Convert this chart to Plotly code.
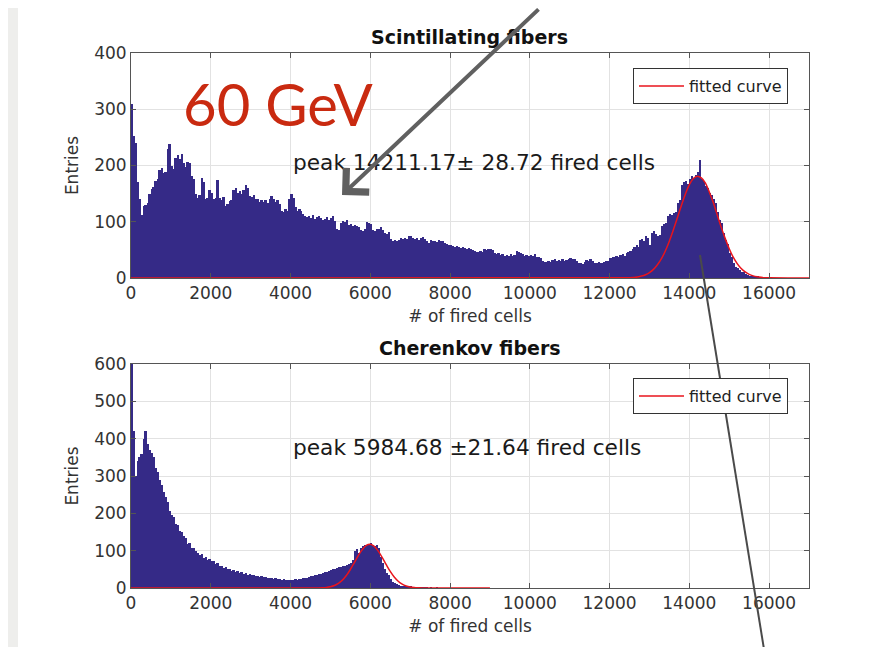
import numpy as np
import plotly.graph_objects as go

# the page puts the figure 8px in from the top-left corner
OFF = 8
W, H = 873 - 2 * OFF, 655 - 2 * OFF
BIN = 50

# Scintillating fibers histogram, counts per 50-cell bin starting at 0
scint_counts = [
    310, 252, 240, 170, 140, 112, 128, 130, 134, 150, 158, 162, 172, 176, 192, 196, 186, 188, 230, 238,
    200, 194, 214, 218, 212, 220, 204, 198, 207, 205, 181, 176, 150, 142, 147, 178, 170, 140, 143, 157,
    152, 140, 143, 175, 142, 138, 144, 128, 131, 137, 139, 156, 160, 152, 155, 150, 156, 166, 160, 146,
    144, 148, 140, 141, 136, 138, 135, 139, 134, 140, 145, 141, 136, 138, 132, 120, 118, 122, 119, 140,
    150, 142, 126, 120, 123, 119, 114, 111, 108, 110, 107, 112, 105, 108, 110, 106, 103, 105, 108, 104,
    106, 110, 102, 88, 86, 98, 101, 99, 103, 94, 96, 92, 95, 93, 90, 86, 84, 88, 100, 98,
    96, 86, 84, 88, 87, 90, 86, 80, 78, 81, 70, 66, 68, 65, 67, 71, 69, 72, 70, 74,
    75, 72, 69, 71, 68, 72, 73, 70, 66, 63, 67, 65, 66, 64, 68, 65, 66, 63, 60, 58,
    59, 57, 55, 57, 56, 54, 55, 53, 52, 54, 51, 50, 48, 46, 47, 48, 46, 52, 50, 51,
    51, 50, 44, 43, 45, 41, 42, 40, 41, 39, 42, 40, 41, 48, 47, 45, 42, 40, 41, 39,
    41, 40, 42, 38, 37, 36, 31, 29, 28, 30, 29, 32, 33, 31, 32, 30, 33, 31, 32, 34,
    35, 34, 33, 30, 26, 27, 25, 28, 32, 31, 33, 30, 27, 26, 28, 27, 26, 29, 30, 31,
    36, 38, 37, 39, 38, 41, 42, 40, 45, 47, 48, 52, 55, 58, 56, 68, 70, 66, 74, 72,
    58, 80, 84, 78, 74, 76, 92, 96, 98, 110, 114, 112, 116, 118, 134, 138, 166, 170, 172, 168,
    176, 182, 178, 184, 188, 210, 176, 172, 164, 160, 152, 148, 140, 134, 118, 104, 98, 80, 68, 60,
    44, 38, 26, 20, 17, 14, 11, 10, 7, 5, 4, 4, 3, 2, 2, 1, 1, 1, 0, 1,
]

# Cherenkov fibers histogram, counts per 50-cell bin starting at 0
cher_counts = [
    600, 420, 300, 340, 352, 360, 400, 420, 385, 370, 362, 350, 322, 310, 290, 275, 258, 245, 230, 205,
    195, 190, 172, 170, 152, 150, 138, 134, 118, 120, 108, 106, 98, 94, 88, 90, 80, 83, 76, 77,
    72, 71, 64, 66, 60, 59, 54, 55, 50, 51, 46, 48, 44, 45, 41, 42, 38, 40, 36, 37,
    34, 35, 32, 33, 30, 31, 29, 30, 27, 28, 26, 25, 26, 24, 23, 22, 23, 21, 21, 22,
    21, 22, 23, 22, 24, 25, 26, 27, 28, 30, 31, 33, 34, 35, 37, 38, 40, 42, 44, 46,
    48, 50, 52, 53, 55, 57, 58, 60, 62, 64, 66, 75, 100, 104, 95, 108, 112, 114, 116, 118,
    120, 116, 112, 115, 108, 84, 66, 52, 40, 34, 24, 17, 13, 10, 8, 6, 5, 4, 4, 3,
    3, 2, 2, 2, 1, 1, 1, 1, 1, 0, 1, 0, 0, 1, 0, 0, 0, 0, 0, 0,
]

# fitted curves, sampled every 100 cells
scint_fit_x = [0] + list(range(12500, 16100, 100)) + [17000]
scint_fit_y = [0,
    0.5, 1.0, 1.9, 3.4, 5.8, 9.7, 15.3, 23.5, 34.4, 48.5,
    65.9, 85.8, 107, 129, 149, 166, 177, 181, 178, 169,
    153, 134, 112, 90, 70, 52, 37, 25.6, 16.9, 10.7,
    6.5, 3.8, 2.2, 1.2, 0.6, 0.3,
    0]

cher_fit_x = [0] + list(range(4700, 7400, 100)) + [9000]
cher_fit_y = [0,
    0.3, 0.7, 1.6, 3.4, 6.7, 12.3, 21.1, 33.5, 49.6, 68.1,
    86.9, 103, 114, 117, 111.5, 98.8, 81.5, 62.4, 44.4, 29.4,
    18.1, 10.3, 5.5, 2.7, 1.2, 0.5, 0.2,
    0]

x_ticks = [0, 2000, 4000, 6000, 8000, 10000, 12000, 14000, 16000]
scint_y_ticks = [0, 100, 200, 300, 400]
cher_y_ticks = [0, 100, 200, 300, 400, 500, 600]

BAR_COLOR = "#352A87"
FIT_COLOR = "#e8141c"
FONT = "DejaVu Sans"


# page pixel -> paper fraction
def px_x(v):
    return (v - OFF) / W


def px_y(v):
    return 1 - (v - OFF) / H


fig = go.Figure()

scint_x = np.arange(len(scint_counts)) * BIN + BIN / 2
cher_x = np.arange(len(cher_counts)) * BIN + BIN / 2

fig.add_trace(go.Bar(x=scint_x, y=scint_counts, width=BIN, marker=dict(color=BAR_COLOR, line=dict(width=0)),
                     showlegend=False, xaxis="x", yaxis="y"))
fig.add_trace(go.Scatter(x=scint_fit_x, y=scint_fit_y, mode="lines", line=dict(color=FIT_COLOR, width=1.5, shape="spline"),
                         name="fitted curve", legend="legend", xaxis="x", yaxis="y"))
fig.add_trace(go.Bar(x=cher_x, y=cher_counts, width=BIN, marker=dict(color=BAR_COLOR, line=dict(width=0)),
                     showlegend=False, xaxis="x2", yaxis="y2"))
fig.add_trace(go.Scatter(x=cher_fit_x, y=cher_fit_y, mode="lines", line=dict(color=FIT_COLOR, width=1.5, shape="spline"),
                         name="fitted curve", legend="legend2", xaxis="x2", yaxis="y2"))

x_dom = [px_x(131), px_x(809)]

axis_common = dict(
    showline=True, linecolor="#555555", linewidth=1, mirror="ticks",
    ticks="inside", ticklen=5, tickcolor="#555555",
    showgrid=True, gridcolor="#e2e2e2", gridwidth=1, zeroline=False,
    tickfont=dict(family=FONT, size=17, color="#333333"),
    tickformat="d",
)
xtitle = dict(text="# of fired cells", font=dict(family=FONT, size=17, color="#333333"), standoff=7)
ytitle = dict(text="Entries", font=dict(family=FONT, size=17, color="#333333"), standoff=11)

fig.update_layout(
    xaxis=dict(domain=x_dom, range=[0, 17000], tickvals=x_ticks, anchor="y", title=xtitle, **axis_common),
    yaxis=dict(domain=[px_y(278), px_y(53)], range=[0, 400], tickvals=scint_y_ticks, anchor="x", title=ytitle, **axis_common),
    xaxis2=dict(domain=x_dom, range=[0, 17000], tickvals=x_ticks, anchor="y2", title=xtitle, **axis_common),
    yaxis2=dict(domain=[px_y(588), px_y(364)], range=[0, 600], tickvals=cher_y_ticks, anchor="x2", title=ytitle, **axis_common),
    bargap=0,
    autosize=False,
    width=W, height=H,
    margin=dict(l=0, r=0, t=0, b=0, pad=0, autoexpand=False),
    paper_bgcolor="#eeeeec",
    plot_bgcolor="white",
    font=dict(family=FONT, color="#222222"),
)

legend_common = dict(
    xanchor="left", yanchor="top", bgcolor="white", bordercolor="#333333", borderwidth=1,
    font=dict(family=FONT, size=16, color="#222222"), itemwidth=45,
)
fig.update_layout(
    legend=dict(x=px_x(633), y=px_y(68), **legend_common),
    legend2=dict(x=px_x(633), y=px_y(378), **legend_common),
)

# white slide background
fig.add_shape(type="rect", xref="paper", yref="paper", x0=px_x(18), x1=1, y0=0, y1=1,
              fillcolor="white", line=dict(width=0), layer="below")

annotations = [
    dict(text="<b>Scintillating fibers</b>", x=px_x(470), y=px_y(37), font=dict(family=FONT, size=19, color="#111111")),
    dict(text="<b>Cherenkov fibers</b>", x=px_x(470), y=px_y(348), font=dict(family=FONT, size=19, color="#111111")),
    dict(text="peak 14211.17± 28.72 fired cells", x=px_x(291), y=px_y(163), xanchor="left",
         font=dict(family=FONT, size=21.7, color="#1a1a1a")),
    dict(text="peak 5984.68 ±21.64 fired cells", x=px_x(291), y=px_y(447), xanchor="left",
         font=dict(family=FONT, size=21.7, color="#1a1a1a")),
    dict(text="60 GeV", x=px_x(181), y=px_y(103), xanchor="left",
         font=dict(family="Lato", size=58, color="#c92a10")),
]
for a in annotations:
    a.setdefault("xanchor", "center")
    fig.add_annotation(xref="paper", yref="paper", yanchor="middle", showarrow=False, **a)

# arrow pointing at the continuum
fig.add_annotation(xref="paper", yref="paper", x=px_x(342), y=px_y(195), ax=198, ay=-203,
                   axref="pixel", ayref="pixel", text="", showarrow=True,
                   arrowhead=4, arrowsize=1.6, arrowwidth=4, arrowcolor="#606060")
# thin pointer line through the peak
fig.add_shape(type="line", xref="paper", yref="paper", x0=px_x(700), y0=px_y(255), x1=px_x(769), y1=px_y(680),
              line=dict(color="#4a4a4a", width=2), layer="above")

fig.write_html("out.html")
